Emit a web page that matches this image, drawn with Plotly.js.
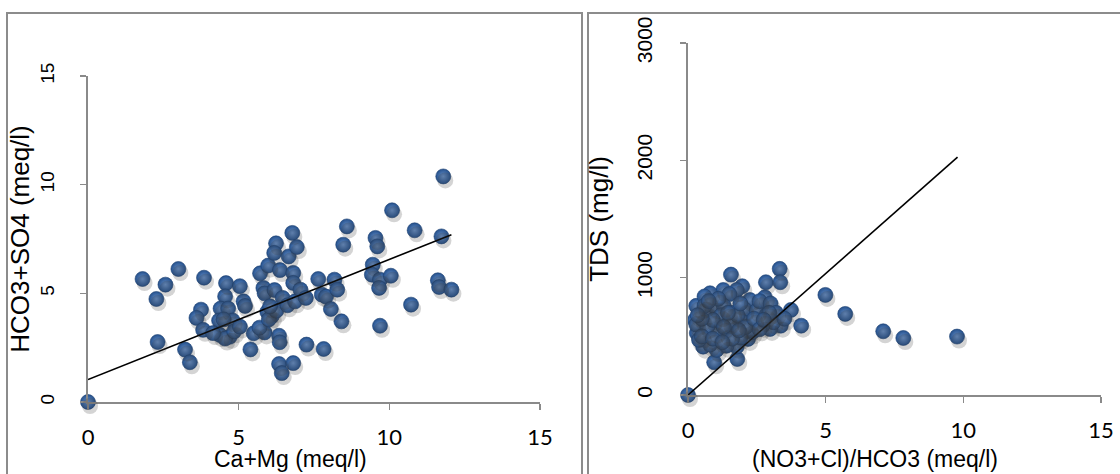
<!DOCTYPE html>
<html>
<head>
<meta charset="utf-8">
<script src="https://cdn.plot.ly/plotly-3.0.1.min.js"></script>
<style>html,body{margin:0;padding:0;background:#fff;}#chart{width:1120px;height:474px;}</style>
</head>
<body>
<div id="chart"></div>
<script>
// Left panel: Ca+Mg vs HCO3+SO4 (meq/l)
const caMg = [0,1.81,2.27,2.57,2.31,3.0,3.22,3.38,3.85,3.75,3.60,3.82,4.58,4.55,5.04,5.16,5.21,4.40,4.65,4.35,4.80,4.50,4.38,4.70,4.55,4.85,4.15,5.04,5.39,5.50,5.86,5.69,6.34,6.36,6.34,6.43,6.81,7.25,7.82,5.71,5.82,5.86,6.19,5.95,6.10,6.00,6.25,6.04,5.98,6.24,6.18,6.37,6.66,6.78,6.93,6.81,6.81,6.46,6.62,6.87,7.05,7.23,7.64,7.76,7.90,8.18,8.27,8.06,8.41,8.47,8.59,9.54,9.60,9.45,9.42,9.69,9.66,10.05,9.69,10.09,10.84,10.72,11.79,11.73,11.61,11.65,12.06];
const hco3So4 = [0,5.66,4.74,5.40,2.76,6.12,2.41,1.83,5.72,4.25,3.87,3.32,5.47,4.86,5.33,4.63,4.42,4.30,4.30,3.75,3.75,3.80,3.08,3.00,2.92,3.25,3.17,3.47,2.42,3.16,3.20,3.42,3.05,2.75,1.75,1.33,1.79,2.64,2.44,5.92,5.25,5.00,5.15,4.15,3.95,3.80,4.20,4.40,6.28,7.30,6.86,6.07,6.70,7.78,7.13,5.94,5.48,4.79,4.45,4.63,5.17,4.79,5.66,4.94,4.85,5.63,5.17,4.28,3.71,7.24,8.08,7.55,7.16,6.32,5.86,5.63,5.25,5.81,3.51,8.82,7.90,4.48,10.38,7.62,5.60,5.29,5.17];
const leftTrendSlope = 0.553, leftTrendIntercept = 1.03, leftTrendX = [0, 12.06];

// Right panel: (NO3+Cl)/HCO3 (meq/l) vs TDS (mg/l)
const ratio = [0,0.95,1.79,1.56,1.97,2.83,3.33,3.35,2.79,4.99,5.71,4.11,3.74,3.37,2.98,2.18,2.33,7.09,7.82,9.77,
  0.25,0.44,0.32,0.55,1.04,1.77,2.25,2.25,1.77,1.28,0.80,0.30,0.60,1.50,2.05,2.00,1.90,1.40,0.80,0.40,0.30,
  0.70,1.00,1.30,1.60,1.70,1.40,1.00,0.70,1.16,1.20,0.90,1.50,
  0.50,0.50,0.90,1.30,1.80,1.90,1.10,0.60,1.60,2.10,0.35,1.25,0.75,1.45,1.85,
  2.50,2.60,3.00,3.20,3.10,2.70,2.40,2.85,3.50,2.60,2.95,2.75];
const tds = [0,279,307,1026,927,961,1075,961,833,853,691,591,725,591,563,478,535,543,486,498,
  639,741,528,412,384,412,554,810,895,895,867,760,840,860,730,620,490,420,430,470,600,
  700,750,760,700,600,520,540,580,625,680,640,620,
  650,500,480,580,680,780,820,760,480,580,680,450,800,700,550,
  720,800,780,700,620,590,650,680,650,560,700,640];
const rightTrendSlope = 207, rightTrendIntercept = 0, rightTrendX = [0, 9.79];

const W = 1120, H = 474;
const px = v => v / W, py = v => (H - v) / H;

const markerBase = {size: 15, color: '#24508c', gradient: {type: 'radial', color: '#6a93cc'}, line: {width: 0.6, color: '#1c3f70'}};
const shadowMarker = {size: 16, color: 'rgba(60,60,60,0.22)', line: {width: 0}};

const traces = [
  {x: caMg, y: hco3So4, xaxis: 'x3', yaxis: 'y3', type: 'scatter', mode: 'markers', marker: shadowMarker, cliponaxis: false, hoverinfo: 'skip'},
  {x: ratio, y: tds, xaxis: 'x4', yaxis: 'y4', type: 'scatter', mode: 'markers', marker: shadowMarker, cliponaxis: false, hoverinfo: 'skip'},
  {x: caMg, y: hco3So4, xaxis: 'x', yaxis: 'y', type: 'scatter', mode: 'markers', marker: markerBase, cliponaxis: false, name: 'HCO3+SO4'},
  {x: leftTrendX, y: leftTrendX.map(v => leftTrendSlope * v + leftTrendIntercept), xaxis: 'x', yaxis: 'y', type: 'scatter', mode: 'lines', line: {color: '#000', width: 1.6}, cliponaxis: false, name: 'Linear'},
  {x: ratio, y: tds, xaxis: 'x2', yaxis: 'y2', type: 'scatter', mode: 'markers', marker: markerBase, cliponaxis: false, name: 'TDS'},
  {x: rightTrendX, y: rightTrendX.map(v => rightTrendSlope * v + rightTrendIntercept), xaxis: 'x2', yaxis: 'y2', type: 'scatter', mode: 'lines', line: {color: '#000', width: 1.6}, cliponaxis: false, name: 'Linear'}
];

const axisLine = {showline: true, linecolor: '#8a8a8a', linewidth: 2, showgrid: false, zeroline: false, ticks: 'outside', ticklen: 6, tickwidth: 1.5, tickcolor: '#8a8a8a'};
const xTickFont = {family: 'Lato, "Open Sans", sans-serif', size: 22, color: '#000'};
const yTitleFont = {family: '"Liberation Sans", Arial, sans-serif', size: 26, color: '#000'};

const LX = [88, 540], LY = [402, 76];
const RX = [688, 1101], RY = [395, 43];
const sdx = 2, sdy = 4;

const layout = {
  width: W, height: H, margin: {l: 0, r: 0, t: 0, b: 0},
  paper_bgcolor: '#fff', plot_bgcolor: 'rgba(0,0,0,0)', showlegend: false,
  xaxis: Object.assign({}, axisLine, {domain: [px(LX[0]), px(LX[1])], range: [0, 15], tickvals: [0, 5, 10, 15], tickfont: xTickFont, ticklabelstandoff: 9, anchor: 'y'}),
  yaxis: Object.assign({}, axisLine, {domain: [py(LY[0]), py(LY[1])], range: [0, 15], tickvals: [0, 5, 10, 15], tickangle: -90,
    tickfont: {family: '"Liberation Sans", Arial, sans-serif', size: 19, color: '#000'}, ticklabelstandoff: 18, anchor: 'x',
    title: {text: 'HCO3+SO4 (meq/l)', font: yTitleFont, standoff: 0}}),
  xaxis2: Object.assign({}, axisLine, {domain: [px(RX[0]), px(RX[1])], range: [0, 15], tickvals: [0, 5, 10, 15], tickfont: xTickFont, ticklabelstandoff: 9, anchor: 'y2'}),
  yaxis2: Object.assign({}, axisLine, {domain: [py(RY[0]), py(RY[1])], range: [0, 3000], tickvals: [0, 1000, 2000, 3000], tickangle: -90,
    tickfont: {family: '"Liberation Sans", Arial, sans-serif', size: 21, color: '#000'}, ticklabelstandoff: 20, anchor: 'x2',
    title: {text: 'TDS (mg/l)', font: yTitleFont, standoff: 16}}),
  xaxis3: {domain: [px(LX[0] + sdx), px(LX[1] + sdx)], range: [0, 15], visible: false, anchor: 'y3'},
  yaxis3: {domain: [py(LY[0] + sdy), py(LY[1] + sdy)], range: [0, 15], visible: false, anchor: 'x3'},
  xaxis4: {domain: [px(RX[0] + sdx), px(RX[1] + sdx)], range: [0, 15], visible: false, anchor: 'y4'},
  yaxis4: {domain: [py(RY[0] + sdy), py(RY[1] + sdy)], range: [0, 3000], visible: false, anchor: 'x4'},
  shapes: [
    {type: 'rect', xref: 'paper', yref: 'paper', x0: px(7), x1: px(582), y0: -0.05, y1: py(13), line: {color: '#8c8c8c', width: 2}, layer: 'below'},
    {type: 'rect', xref: 'paper', yref: 'paper', x0: px(588), x1: 1.05, y0: -0.05, y1: py(13), line: {color: '#8c8c8c', width: 2}, layer: 'below'}
  ],
  annotations: [
    {text: 'Ca+Mg (meq/l)', xref: 'paper', yref: 'paper', x: px(290), y: py(459), xanchor: 'center', yanchor: 'middle', showarrow: false,
      font: {family: '"Liberation Sans", Arial, sans-serif', size: 23, color: '#000'}},
    {text: '(NO3+Cl)/HCO3 (meq/l)', xref: 'paper', yref: 'paper', x: px(875), y: py(459), xanchor: 'center', yanchor: 'middle', showarrow: false,
      font: {family: '"Liberation Sans", Arial, sans-serif', size: 23, color: '#000'}}
  ]
};

Plotly.newPlot('chart', traces, layout, {displayModeBar: false, staticPlot: true});
</script>
</body>
</html>
